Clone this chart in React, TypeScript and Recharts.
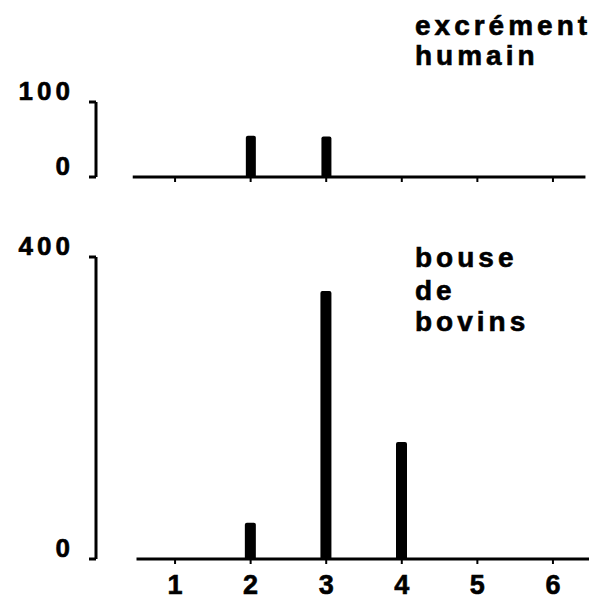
import React from "react";
import { BarChart, Bar, XAxis, YAxis, ReferenceLine } from "recharts";

// x positions 1..6
const positions = [1, 2, 3, 4, 5, 6];
// excrément humain
const humanValues = [0, 55, 54, 0, 0, 0];
// bouse de bovins
const cattleValues = [0, 48, 355, 155, 0, 0];

const humanTicks = [0, 100];
const cattleTicks = [0, 400];

const humanData = positions.map((pos, i) => ({ pos, value: humanValues[i] }));
const cattleData = positions.map((pos, i) => ({ pos, value: cattleValues[i] }));

const FONT = "'Liberation Sans', Arial, Helvetica, sans-serif";
const X_DOMAIN: [number, number] = [-0.046, 6.477];

const YTick = (props: any) => {
  const { x, y, payload } = props;
  return (
    <text
      x={x}
      y={y - 2}
      textAnchor="end"
      fontFamily={FONT}
      fontWeight="bold"
      fontSize={26}
      letterSpacing={4}
      fill="#000"
      stroke="#000"
      strokeWidth={0.6}
    >
      {payload.value}
    </text>
  );
};

const XTick = (props: any) => {
  const { x, y, payload } = props;
  return (
    <text
      x={x}
      y={y + 28}
      textAnchor="middle"
      fontFamily={FONT}
      fontWeight="bold"
      fontSize={27}
      fill="#000"
      stroke="#000"
      strokeWidth={0.6}
    >
      {payload.value}
    </text>
  );
};

const NoTick = () => <g />;

export default function App() {
  return (
    <div
      style={{
        position: "absolute",
        left: 0,
        top: 0,
        width: 604,
        height: 602,
        background: "#fff",
        overflow: "hidden",
      }}
    >
      <div style={{ position: "absolute", left: 0, top: 0 }}>
        <BarChart
          width={604}
          height={200}
          data={humanData}
          margin={{ top: 102, right: 15, left: 0, bottom: 3 }}
        >
          <XAxis
            dataKey="pos"
            type="number"
            domain={X_DOMAIN}
            ticks={positions}
            axisLine={false}
            tickLine={{ stroke: "#000", strokeWidth: 2 }}
            tickSize={5}
            tick={<NoTick />}
            height={20}
          />
          <YAxis
            type="number"
            domain={[0, 100]}
            ticks={humanTicks}
            width={96}
            axisLine={{ stroke: "#000", strokeWidth: 3 }}
            tickLine={{ stroke: "#000", strokeWidth: 3 }}
            tickSize={7}
            tickMargin={15}
            tick={<YTick />}
          />
          <Bar
            dataKey="value"
            fill="#000"
            barSize={10}
            radius={[2, 2, 0, 0]}
            isAnimationActive={false}
          />
          <ReferenceLine
            segment={[
              { x: 0.44, y: 0 },
              { x: 6.43, y: 0 },
            ]}
            stroke="#000"
            strokeWidth={3}
          />
        </BarChart>
      </div>
      <div style={{ position: "absolute", left: 0, top: 200 }}>
        <BarChart
          width={604}
          height={402}
          data={cattleData}
          margin={{ top: 57, right: 15, left: 0, bottom: 0 }}
        >
          <XAxis
            dataKey="pos"
            type="number"
            domain={X_DOMAIN}
            ticks={positions}
            axisLine={false}
            tickLine={{ stroke: "#000", strokeWidth: 2 }}
            tickSize={5}
            tickMargin={2}
            tick={<XTick />}
            height={43}
          />
          <YAxis
            type="number"
            domain={[0, 400]}
            ticks={cattleTicks}
            width={96}
            axisLine={{ stroke: "#000", strokeWidth: 3 }}
            tickLine={{ stroke: "#000", strokeWidth: 3 }}
            tickSize={7}
            tickMargin={15}
            tick={<YTick />}
          />
          <Bar
            dataKey="value"
            fill="#000"
            barSize={11}
            radius={[2, 2, 0, 0]}
            isAnimationActive={false}
          />
          <ReferenceLine
            segment={[
              { x: 0.49, y: 0 },
              { x: 6.477, y: 0 },
            ]}
            stroke="#000"
            strokeWidth={3}
          />
        </BarChart>
      </div>
      <svg
        width={604}
        height={602}
        style={{ position: "absolute", left: 0, top: 0, pointerEvents: "none" }}
      >
        <g
          fontFamily={FONT}
          fontWeight="bold"
          fontSize={28}
          letterSpacing={4}
          fill="#000"
          stroke="#000"
          strokeWidth={0.6}
        >
          <text x={415} y={35}>excrément</text>
          <text x={415} y={65}>humain</text>
          <text x={415} y={267}>bouse</text>
          <text x={415} y={300}>de</text>
          <text x={415} y={331}>bovins</text>
        </g>
      </svg>
    </div>
  );
}
